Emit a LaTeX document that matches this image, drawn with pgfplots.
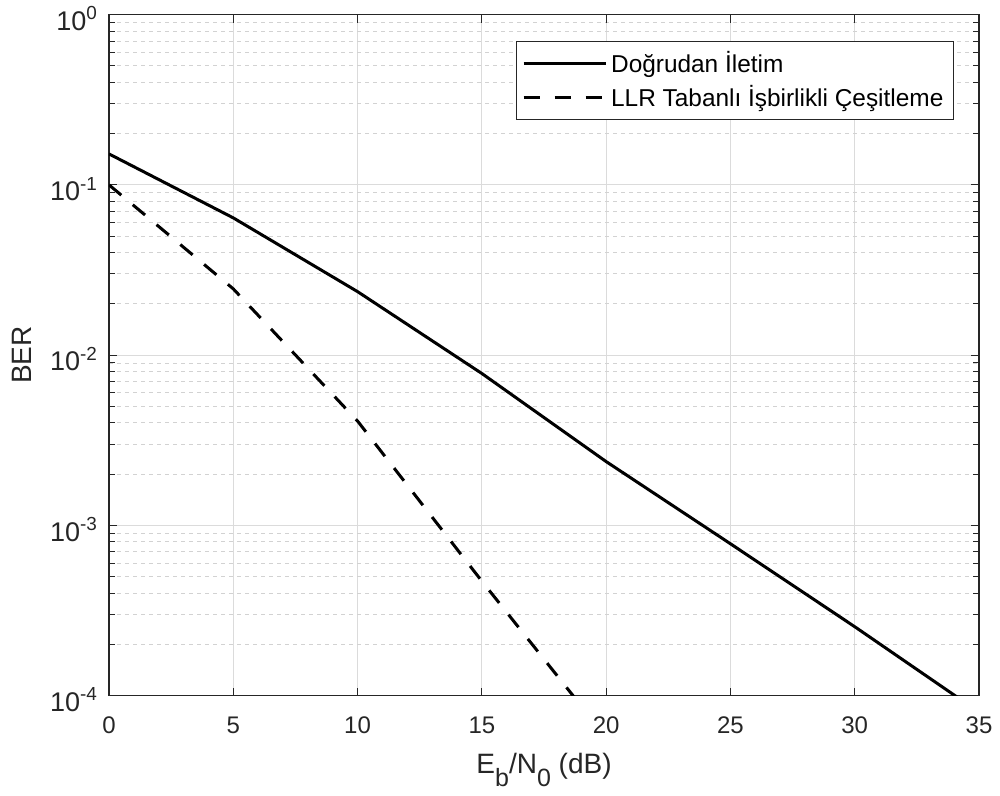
\documentclass[border=0pt]{standalone}
\usepackage{fontspec}
\setmainfont{Liberation Sans}
\usepackage{pgfplots}
\pgfplotsset{compat=1.18}
\definecolor{axgray}{RGB}{38,38,38}
\begin{document}
\begin{tikzpicture}
\begin{semilogyaxis}[
  width=435pt, height=340.5pt, scale only axis,
  xmin=0, xmax=35, ymin=1e-4, ymax=1,
  xtick={0,5,...,35},
  ytick={1e-4,1e-3,1e-2,1e-1,1},
  yticklabels={10\textsuperscript{-4},10\textsuperscript{-3},10\textsuperscript{-2},10\textsuperscript{-1},10\textsuperscript{0}},
  minor ytick={2e-4,3e-4,4e-4,5e-4,6e-4,7e-4,8e-4,9e-4,
               2e-3,3e-3,4e-3,5e-3,6e-3,7e-3,8e-3,9e-3,
               2e-2,3e-2,4e-2,5e-2,6e-2,7e-2,8e-2,9e-2,
               2e-1,3e-1,4e-1,5e-1,6e-1,7e-1,8e-1,9e-1},
  /pgf/number format/assume math mode=true,
  grid=both,
  major grid style={gray!28, line width=0.4pt},
  minor grid style={gray!35, dash pattern=on 2pt off 2pt, line width=0.4pt},
  tick align=inside,
  major tick length=4pt, minor tick length=3pt,
  tick style={axgray, line width=0.5pt},
  axis line style={axgray, line width=0.6pt},
  ticklabel style={font=\fontsize{12}{13}\selectfont, text=axgray},
  xticklabel style={yshift=-7pt},
  yticklabel style={font=\fontsize{13.5}{14}\selectfont, xshift=-2pt, yshift=-2pt},
  label style={font=\fontsize{14}{15}\selectfont, text=axgray},
  xlabel={E\raisebox{-6.5pt}{\fontsize{12.5}{12.5}\selectfont b}/N\raisebox{-6.5pt}{\fontsize{12.5}{12.5}\selectfont 0} (dB)},
  xlabel style={at={(axis description cs:0.5,0)}, anchor=base, yshift=-39pt},
  ylabel={BER},
  ylabel style={at={(axis description cs:-0.1,0.5)}, anchor=center},
  legend style={at={(1,1)}, anchor=north east, xshift=-12.5pt, yshift=-13pt,
    font=\fontsize{12.2}{13}\selectfont, draw=axgray, line width=0.6pt,
    row sep=1pt, inner sep=3pt},
  legend cell align=left,
  legend image code/.code={\draw[#1] (0pt,0pt) -- (41pt,0pt);},
  after end axis/.code={
    \path (rel axis cs:0,0) ++(-54.5pt,-50pt);
    \path (rel axis cs:1,1) ++(10.5pt,6.5pt);
  },
]
\addplot[black, line width=1.5pt] coordinates {
  (0,0.152) (5,0.064) (10,0.0236) (15,0.0078) (20,0.00237) (25,7.8e-4) (30,2.54e-4) (35,8e-5)};
\addlegendentry{Doğrudan İletim}
\addplot[black, line width=1.5pt, dash pattern=on 8pt off 7.5pt] coordinates {
  (0,0.1) (5,0.0245) (10,0.0041) (15,4.7e-4) (20,5.7e-5)};
\addlegendentry{LLR Tabanlı İşbirlikli Çeşitleme}
\end{semilogyaxis}
\end{tikzpicture}
\end{document}
